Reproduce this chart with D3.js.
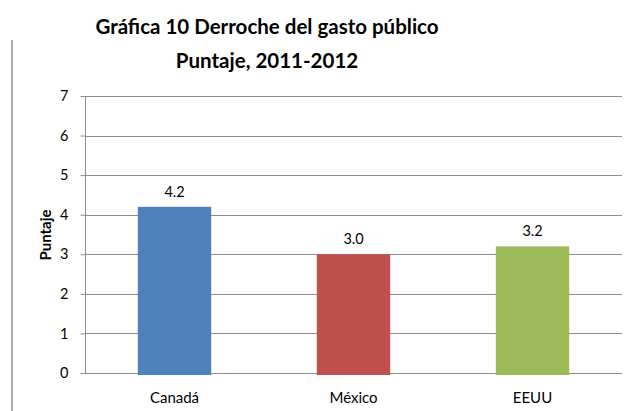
<!DOCTYPE html>
<html><head><meta charset="utf-8">
<script src="https://cdn.jsdelivr.net/npm/d3@7"></script>
<style>body{margin:0;background:#fff}svg{display:block}</style>
</head><body><svg id="c" width="632" height="411"></svg>
<script>
const categories = ["Canadá", "México", "EEUU"];
const values = [4.2, 3.0, 3.2];
const colors = ["#4F81BD", "#C0504D", "#9BBB59"];
const yTicks = [0, 1, 2, 3, 4, 5, 6, 7];
const titleLines = ["Gráfica 10 Derroche del gasto público", "Puntaje, 2011-2012"];
const yTitle = "Puntaje";

const svg = d3.select("#c");
const font = "Lato, 'Open Sans', sans-serif";
const m = {left: 85, right: 622, top: 96, bottom: 373};

// left border line
svg.append("line").attr("x1", 12).attr("x2", 12).attr("y1", 40).attr("y2", 411)
  .attr("stroke", "#ababab").attr("stroke-width", 2);

const x = d3.scaleBand().domain(categories).range([m.left, m.right]).paddingInner(0.59).paddingOuter(0.295);
const y = d3.scaleLinear().domain([0, 7]).range([m.bottom, m.top]);

// gridlines
svg.append("g").selectAll("line").data(yTicks).join("line")
  .attr("x1", m.left).attr("x2", m.right)
  .attr("y1", d => Math.round(y(d)) + 0.5).attr("y2", d => Math.round(y(d)) + 0.5)
  .attr("stroke", "#8c8c8c").attr("stroke-width", 1);

// y axis
const ya = svg.append("g").attr("transform", `translate(${m.left + 0.5},0)`)
  .call(d3.axisLeft(y).tickValues(yTicks).tickSize(5).tickPadding(12).tickFormat(d3.format("d")));
ya.select(".domain").attr("stroke", "#8c8c8c").attr("d", `M0,${m.top}V${m.bottom + 0.5}`);
ya.selectAll(".tick line").attr("stroke", "#8c8c8c");
ya.selectAll(".tick text").attr("font-family", font).attr("font-size", 14.5).attr("fill", "#000");

// bars
svg.append("g").selectAll("rect").data(values).join("rect")
  .attr("x", (d, i) => x(categories[i]))
  .attr("width", x.bandwidth())
  .attr("y", d => y(d))
  .attr("height", d => y(0) - y(d) + 2)
  .attr("fill", (d, i) => colors[i]);

// value labels
svg.append("g").selectAll("text").data(values).join("text")
  .attr("x", (d, i) => x(categories[i]) + x.bandwidth() / 2)
  .attr("y", d => y(d) - 10)
  .attr("text-anchor", "middle").attr("font-family", font).attr("font-size", 14.5)
  .text(d => d3.format(".1f")(d));

// category labels
svg.append("g").selectAll("text").data(categories).join("text")
  .attr("x", d => x(d) + x.bandwidth() / 2)
  .attr("y", 403)
  .attr("text-anchor", "middle").attr("font-family", font).attr("font-size", 15)
  .text(d => d);

// y title
svg.append("text").attr("transform", "translate(51,235) rotate(-90)")
  .attr("text-anchor", "middle").attr("font-family", font).attr("font-size", 15)
  .attr("font-weight", "bold").text(yTitle);

// title
svg.append("g").selectAll("text").data(titleLines).join("text")
  .attr("x", 267).attr("y", (d, i) => 34 + i * 34)
  .attr("text-anchor", "middle").attr("font-family", font).attr("font-size", 20.5)
  .attr("font-weight", "bold").text(d => d);
</script></body></html>
